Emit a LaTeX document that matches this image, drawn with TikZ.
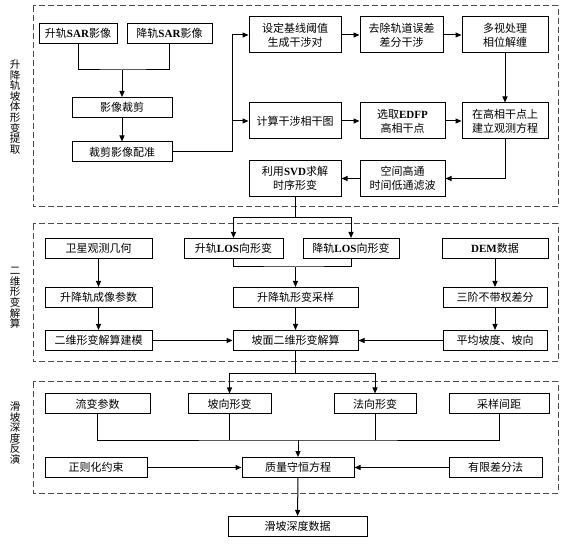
\documentclass[tikz,border=0pt]{standalone}
\usepackage{fontspec}
\setmainfont{Noto Sans CJK SC}
\newfontfamily\lat{Liberation Serif}
\usetikzlibrary{arrows.meta}
\newcommand\en[1]{{\lat\bfseries #1}}
\tikzset{
  box/.style={draw, inner sep=0pt, minimum height=20, align=center},
  tallbox/.style={box, minimum height=36},
  frame/.style={draw=black!70, dash pattern=on 6pt off 3pt},
  arr/.style={-{Triangle[length=6pt,width=5pt]}},
  vlabel/.style={align=center, font=\fontsize{10.5}{10.6}\selectfont},
}
\begin{document}
\begin{tikzpicture}[x=1pt,y=-1pt,font=\fontsize{11}{14}\selectfont,line width=1pt]
  \useasboundingbox (0,0) rectangle (568,545);
  \draw[frame] (33,6) rectangle (558,207);
  \draw[frame] (33,224) rectangle (558,362);
  \draw[frame] (33,382) rectangle (558,493);
  \node[vlabel] (lab1) at (15,107) {升\\降\\轨\\坡\\体\\形\\变\\提\\取};
  \node[vlabel] (lab2) at (15,298) {二\\维\\形\\变\\解\\算};
  \node[vlabel] (lab3) at (15,433) {滑\\坡\\深\\度\\反\\演};
  % extraction
  \node[box, minimum width=78] (asc) at (78,33.5) {升轨\en{SAR}影像};
  \node[box, minimum width=85] (dsc) at (169.5,33.5) {降轨\en{SAR}影像};
  \node[box, minimum width=100] (crop) at (122,107.5) {影像裁剪};
  \node[box, minimum width=100] (coreg) at (122,152) {裁剪影像配准};
  \node[tallbox, minimum width=92] (pair) at (295,35) {设定基线阈值\\生成干涉对};
  \node[tallbox, minimum width=83] (dinsar) at (401.5,35) {去除轨道误差\\差分干涉};
  \node[tallbox, minimum width=86] (unwrap) at (505,35) {多视处理\\相位解缠};
  \node[tallbox, minimum width=92] (cohmap) at (295,121) {计算干涉相干图};
  \node[tallbox, minimum width=85] (edfp) at (402.5,121) {选取\en{EDFP}\\高相干点};
  \node[tallbox, minimum width=86] (obs) at (505,121) {在高相干点上\\建立观测方程};
  \node[tallbox, minimum width=85] (filt) at (402.5,178.5) {空间高通\\时间低通滤波};
  \node[tallbox, minimum width=92] (svd) at (295,178.5) {利用\en{SVD}求解\\时序形变};
  \coordinate (j1) at (122,70);
  \draw (asc.south) |- (j1) -| (dsc.south);
  \draw[arr] (j1) -- (crop.north);
  \draw[arr] (crop) -- (coreg);
  \coordinate (j2) at (232,152);
  \draw (coreg.east) -- (j2);
  \draw[arr] (j2) |- (pair.west);
  \draw[arr] (j2) |- (cohmap.west);
  \draw[arr] (pair) -- (dinsar);
  \draw[arr] (dinsar) -- (unwrap);
  \draw[arr] (unwrap) -- (obs);
  \draw[arr] (cohmap) -- (edfp);
  \draw[arr] (edfp) -- (obs);
  \draw[arr] (obs.south) |- (filt.east);
  \draw[arr] (filt) -- (svd);
  % 2d solution
  \node[box, minimum width=107] (sat) at (98.5,248.5) {卫星观测几何};
  \node[box, minimum width=99] (alos) at (233.5,248.5) {升轨\en{LOS}向形变};
  \node[box, minimum width=96] (dlos) at (351,248.5) {降轨\en{LOS}向形变};
  \node[box, minimum width=106] (dem) at (495,248.5) {\en{DEM}数据};
  \node[box, minimum width=107] (geom) at (98.5,297.5) {升降轨成像参数};
  \node[box, minimum width=125] (samp) at (295.5,297.5) {升降轨形变采样};
  \node[box, minimum width=104] (diff) at (495,297.5) {三阶不带权差分};
  \node[box, minimum width=107] (model) at (98.5,340.5) {二维形变解算建模};
  \node[box, minimum width=125] (solve) at (295.5,340.5) {坡面二维形变解算};
  \node[box, minimum width=104] (slope) at (495,340.5) {平均坡度、坡向};
  \coordinate (j3) at (295,218);
  \draw (svd.south) -- (j3);
  \draw[arr] (j3) -| (alos.north);
  \draw[arr] (j3) -| (dlos.north);
  \coordinate (j4) at (295.5,267);
  \draw (alos.south) |- (j4) -| (dlos.south);
  \draw[arr] (j4) -- (samp.north);
  \draw[arr] (sat) -- (geom);
  \draw[arr] (geom) -- (model);
  \draw[arr] (model) -- (solve);
  \draw[arr] (dem) -- (diff);
  \draw[arr] (diff) -- (slope);
  \draw[arr] (slope) -- (solve);
  \draw[arr] (samp) -- (solve);
  % depth inversion
  \node[box, minimum width=105] (rheo) at (97.5,404) {流变参数};
  \node[box, minimum width=83] (sdef) at (229.5,404) {坡向形变};
  \node[box, minimum width=82] (ndef) at (375,404) {法向形变};
  \node[box, minimum width=100] (spac) at (499,404) {采样间距};
  \node[box, minimum width=102] (regu) at (96,467.5) {正则化约束};
  \node[box, minimum width=112] (mass) at (298,467.5) {质量守恒方程};
  \node[box, minimum width=93] (fd) at (495.5,467.5) {有限差分法};
  \node[box, minimum width=139] (depth) at (297.5,526.5) {滑坡深度数据};
  \coordinate (j5) at (295.5,374);
  \draw (solve.south) -- (j5);
  \draw[arr] (j5) -| (sdef.north);
  \draw[arr] (j5) -| (ndef.north);
  \coordinate (j6) at (298,440);
  \draw (rheo.south) |- (j6) -| (spac.south);
  \draw (sdef.south) -- (sdef.south |- j6);
  \draw (ndef.south) -- (ndef.south |- j6);
  \draw[arr] (j6) -- (mass.north);
  \draw[arr] (regu) -- (mass);
  \draw[arr] (fd) -- (mass);
  \draw[arr] (mass) -- (depth);
\end{tikzpicture}
\end{document}
